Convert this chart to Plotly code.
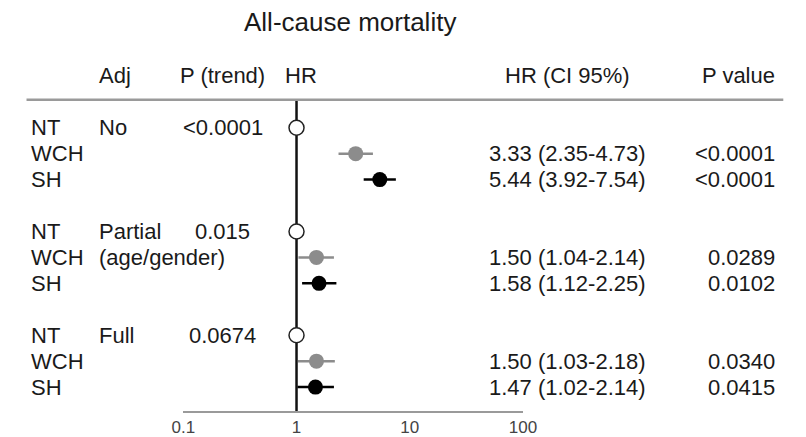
import plotly.graph_objects as go

# Hazard ratios for all-cause mortality by hypertension status and adjustment level
groups = ["NT", "WCH", "SH", "NT", "WCH", "SH", "NT", "WCH", "SH"]
rows = [0, 1, 2, 4, 5, 6, 8, 9, 10]
adj_labels = {0: "No", 4: "Partial", 5: "(age/gender)", 8: "Full"}
p_trend = {0: "<0.0001", 4: "0.015", 8: "0.0674"}
hr = [1.0, 3.33, 5.44, 1.0, 1.50, 1.58, 1.0, 1.50, 1.47]
ci_lo = [None, 2.35, 3.92, None, 1.04, 1.12, None, 1.03, 1.02]
ci_hi = [None, 4.73, 7.54, None, 2.14, 2.25, None, 2.18, 2.14]
p_value = [None, "<0.0001", "<0.0001", None, "0.0289", "0.0102", None, "0.0340", "0.0415"]
tick_vals = [0.1, 1, 10, 100]
tick_text = ["0.1", "1", "10", "100"]

W, H = 806, 437
FONT = "Liberation Sans, Arial, sans-serif"
TXT = "#1a1a1a"
GREY = "#8c8c8c"
BODY = 22

def px(x):
    return x / W

def py(y):
    return 1 - y / H

top_px, bottom_px = 100, 412
row_px = 26
first_row_px = 128
y_top = (top_px - first_row_px) / row_px
y_bottom = 10 + (bottom_px - (first_row_px + 10 * row_px)) / row_px

fig = go.Figure()

# reference line at HR = 1
fig.add_trace(go.Scatter(
    x=[1, 1], y=[y_bottom, y_top], mode="lines",
    line=dict(color="#111111", width=2.5), hoverinfo="skip", showlegend=False,
))

styles = {
    "NT": dict(color="white", line=dict(color="#222222", width=1.5)),
    "WCH": dict(color=GREY, line=dict(color=GREY, width=0)),
    "SH": dict(color="#000000", line=dict(color="#000000", width=0)),
}

for g in ["NT", "WCH", "SH"]:
    idx = [i for i, gg in enumerate(groups) if gg == g]
    xs = [hr[i] for i in idx]
    ys = [rows[i] for i in idx]
    kw = {}
    if g != "NT":
        plus = [ci_hi[i] - hr[i] for i in idx]
        minus = [hr[i] - ci_lo[i] for i in idx]
        kw["error_x"] = dict(type="data", symmetric=False, array=plus, arrayminus=minus,
                             color=styles[g]["color"], thickness=2.5, width=0)
    fig.add_trace(go.Scatter(
        x=xs, y=ys, mode="markers",
        marker=dict(symbol="circle", size=15, **styles[g]),
        showlegend=False, hoverinfo="skip", **kw,
    ))

ann = []

def text(x, y, s, anchor="left", size=BODY, yref="y", color=TXT):
    ann.append(dict(x=x, y=y, xref="paper", yref=yref, text=s, showarrow=False,
                    xanchor=anchor, yanchor="middle",
                    font=dict(family=FONT, size=size, color=color)))

# title and column headers
text(px(349), py(22), "All-cause mortality", "center", 26, "paper")
header_y = py(76)
text(px(88), header_y, "Adj", "left", BODY, "paper")
text(px(218), header_y, "P (trend)", "center", BODY, "paper")
text(px(280), header_y, "HR", "left", BODY, "paper")
text(px(574), header_y, "HR (CI 95%)", "center", BODY, "paper")
text(px(791), header_y, "P value", "right", BODY, "paper")

for i, r in enumerate(rows):
    text(px(18), r, groups[i], "left")
    if r in adj_labels:
        text(px(88), r, adj_labels[r], "left")
    if r in p_trend:
        text(px(218), r, p_trend[r], "center")
    if ci_lo[i] is not None:
        text(px(574), r, f"{hr[i]:.2f} ({ci_lo[i]:.2f}-{ci_hi[i]:.2f})", "center")
        text(px(791), r, p_value[i], "right")

fig.update_layout(
    width=W, height=H,
    margin=dict(l=0, r=0, t=0, b=0),
    paper_bgcolor="white", plot_bgcolor="white",
    annotations=ann,
    shapes=[dict(type="line", xref="paper", yref="paper",
                 x0=px(15), x1=px(797), y0=py(top_px), y1=py(top_px),
                 line=dict(color="#9a9a9a", width=2.5))],
    xaxis=dict(
        type="log", range=[-1, 2], domain=[px(177), px(528)],
        tickvals=tick_vals, ticktext=tick_text, ticks="",
        showgrid=False, zeroline=False,
        showline=True, linecolor="#9a9a9a", linewidth=2,
        tickfont=dict(family=FONT, size=17, color="#444444"),
        fixedrange=True,
    ),
    yaxis=dict(
        range=[y_bottom, y_top], domain=[py(bottom_px), py(top_px)],
        showticklabels=False, showgrid=False, zeroline=False, showline=False,
        fixedrange=True,
    ),
)

fig.write_html("out.html")
